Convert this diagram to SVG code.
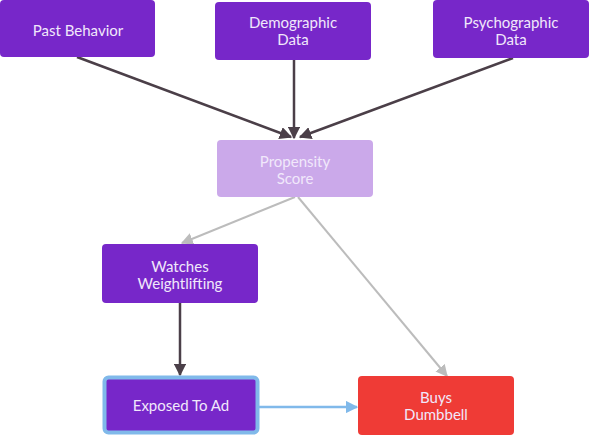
<svg xmlns="http://www.w3.org/2000/svg" width="590" height="435" viewBox="0 0 590 435">
<style>
.n{fill:#7727c9}
.t{font-family:Lato,"Liberation Sans",sans-serif;font-size:15px;fill:#f1e8fb;text-anchor:middle}
.d{stroke:#4b3f48;stroke-width:2.5;fill:none}
.g{stroke:#bcbcbc;stroke-width:2;fill:none}
.b{stroke:#80b9ea;stroke-width:2.5;fill:none}
</style>
<defs>
<marker id="ad" viewBox="0 0 10 10" refX="9" refY="5" markerWidth="5" markerHeight="5" orient="auto" markerUnits="strokeWidth"><path d="M0,0L10,5L0,10z" fill="#4b3f48"/></marker>
<marker id="ag" viewBox="0 0 10 10" refX="9" refY="5" markerWidth="6" markerHeight="6" orient="auto" markerUnits="strokeWidth"><path d="M0,0L10,5L0,10z" fill="#bcbcbc"/></marker>
<marker id="ab" viewBox="0 0 10 10" refX="9" refY="5" markerWidth="5" markerHeight="5" orient="auto" markerUnits="strokeWidth"><path d="M0,0L10,5L0,10z" fill="#80b9ea"/></marker>
</defs>
<g id="connectors">
<path class="d" d="M77,57L291,137" marker-end="url(#ad)"/>
<path class="d" d="M294,60L294,138" marker-end="url(#ad)"/>
<path class="d" d="M513,58L300,137" marker-end="url(#ad)"/>
<path class="g" d="M295,197L182,243" marker-end="url(#ag)"/>
<path class="g" d="M298,197L447,376" marker-end="url(#ag)"/>
<path class="d" d="M180,303L180,375" marker-end="url(#ad)"/>
<path class="b" d="M258,407L357,407" marker-end="url(#ab)"/>
</g>
<g id="past-behavior"><rect class="n" x="0" y="0" width="155" height="57" rx="4"/><text class="t" x="78" y="36">Past Behavior</text></g>
<g id="demographic-data"><rect class="n" x="215" y="2" width="156" height="58" rx="4"/><text class="t" x="293" y="27.5">Demographic</text><text class="t" x="293" y="44.5">Data</text></g>
<g id="psychographic-data"><rect class="n" x="433" y="0" width="156" height="58" rx="4"/><text class="t" x="511" y="27.5">Psychographic</text><text class="t" x="511" y="44.5">Data</text></g>
<g id="propensity-score"><rect x="217" y="140" width="156" height="57" rx="4" fill="#cba9ea"/><text class="t" x="295" y="166.5" fill="#ecdff8">Propensity</text><text class="t" x="295" y="183.5" fill="#ecdff8">Score</text></g>
<g id="watches-weightlifting"><rect class="n" x="102" y="244" width="156" height="59" rx="4"/><text class="t" x="180" y="271.5">Watches</text><text class="t" x="180" y="288.5">Weightlifting</text></g>
<g id="exposed-to-ad"><rect x="104.5" y="377.5" width="153" height="55" rx="4" fill="#7727c9" stroke="#80b9ea" stroke-width="4"/><text class="t" x="181" y="411">Exposed To Ad</text></g>
<g id="buys-dumbbell"><rect x="358" y="376" width="156" height="59" rx="4" fill="#ef3b36"/><text class="t" x="436" y="402.5">Buys</text><text class="t" x="436" y="419.5">Dumbbell</text></g>
</svg>
